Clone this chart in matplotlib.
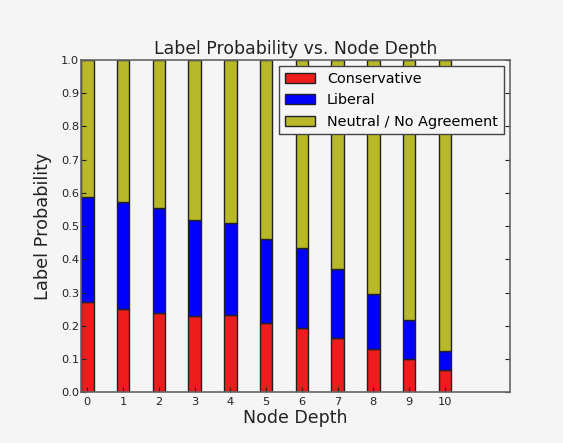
"""Label probability vs. node depth, stacked bars."""

import matplotlib
import matplotlib.pyplot as plt
import numpy as np

matplotlib.use("Agg")

depths = list(range(11))
conservative = [0.272, 0.250, 0.240, 0.229, 0.232, 0.210, 0.194, 0.164, 0.132, 0.102, 0.067]
liberal = [0.317, 0.324, 0.315, 0.289, 0.277, 0.252, 0.242, 0.206, 0.165, 0.115, 0.057]
neutral = [1.0 - c - l for c, l in zip(conservative, liberal)]

series_labels = ["Conservative", "Liberal", "Neutral / No Agreement"]
colors = ["#ee1c1c", "#0000ff", "#b8b828"]

BG = "#f5f5f5"
WIDTH = 0.35


def main(output_path: str = "out.png") -> None:
    fig = plt.figure(figsize=(5.63, 4.43), dpi=100, facecolor=BG)
    ax = fig.add_axes([0.1439, 0.114, 0.762, 0.7506], facecolor=BG)

    ind = np.arange(len(depths))
    bottom = np.zeros(len(depths))
    for vals, lab, col in zip([conservative, liberal, neutral], series_labels, colors):
        ax.bar(ind, vals, WIDTH, bottom=bottom, color=col, edgecolor="#222222",
               linewidth=1.0, align="edge", label=lab)
        bottom += np.array(vals)

    ax.set_xlim(0, 12)
    ax.set_ylim(0, 1.0)
    ax.set_xticks(ind + WIDTH / 2)
    ax.set_xticklabels([str(d) for d in depths])
    ax.set_yticks(np.arange(0, 1.01, 0.1))
    ax.set_yticklabels([f"{v:.1f}" for v in np.arange(0, 1.01, 0.1)])
    ax.tick_params(direction="in", top=True, right=True, length=3.5, width=0.8,
                   labelsize=8.2, colors="#222222")
    ax.tick_params(axis="x", top=False, pad=3)
    ax.tick_params(axis="y", pad=1.5)
    for s in ax.spines.values():
        s.set_color("#666666")
        s.set_linewidth(1.2)

    ax.set_title("Label Probability vs. Node Depth", fontsize=12.4, color="#222222", pad=4)
    ax.set_xlabel("Node Depth", fontsize=12.5, color="#222222", labelpad=2)
    ax.set_ylabel("Label Probability", fontsize=12.8, color="#222222", labelpad=6)

    leg = ax.legend(loc="upper right", fontsize=10.4, fancybox=False, framealpha=1,
                    borderaxespad=0.45, handlelength=2.1, labelspacing=0.5,
                    handletextpad=0.8)
    leg.get_frame().set_facecolor(BG)
    leg.get_frame().set_edgecolor("#444444")

    fig.savefig(output_path, dpi=100, facecolor=BG)
    plt.close(fig)


if __name__ == "__main__":
    main()
